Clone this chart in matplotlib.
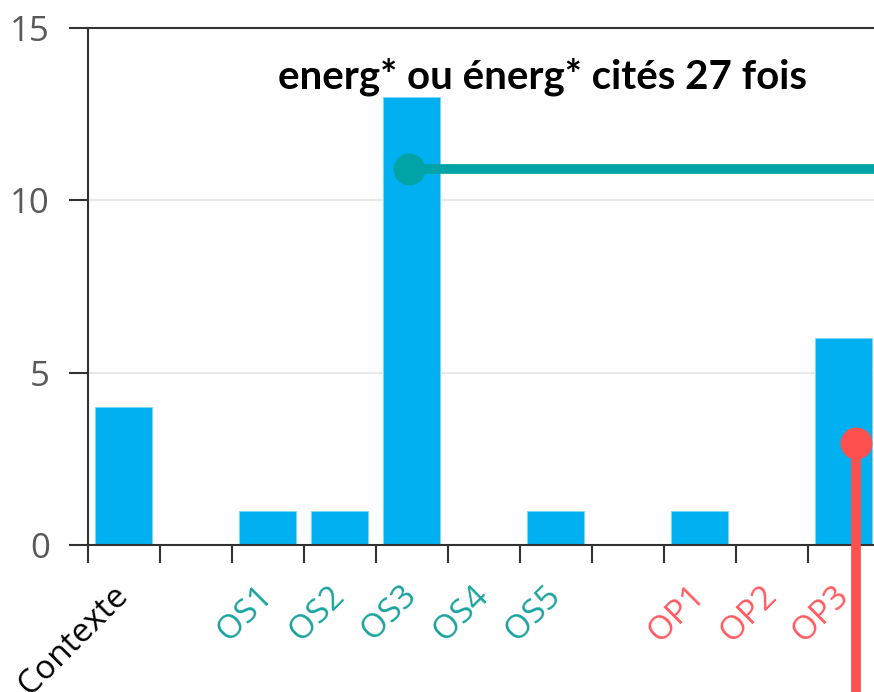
import matplotlib
matplotlib.use("Agg")
import matplotlib.pyplot as plt
import numpy as np

# values
categories = ["Contexte", "", "OS1", "OS2", "OS3", "OS4", "OS5", "", "OP1", "OP2", "OP3"]
counts = [4, 0, 1, 1, 13, 0, 1, 0, 1, 0, 6]
groups = ["ctx", "", "os", "os", "os", "os", "os", "", "op", "op", "op"]
title_text = "energ* ou énerg* cités 27 fois"

# marker lines drawn over the chart (data coords)
os_marker = (3.97, 10.9)
op_marker = (10.18, 2.96)

BAR = "#00B0F0"
TEAL = "#00A3A6"
RED = "#FF5050"
group_colors = {"ctx": "#000000", "os": "#1AA39E", "op": "#FF5A5F", "": "#000000"}

plt.rcParams["font.family"] = ["Open Sans", "DejaVu Sans"]

fig = plt.figure(figsize=(8.74, 6.92), dpi=100)
ax = fig.add_axes([87.5 / 874, 147 / 692, 792 / 874, 517 / 692])

x = np.arange(len(categories))
ax.bar(x, counts, width=0.78, color=BAR, edgecolor="#7fd6f7", linewidth=0.6, zorder=2)

ax.set_xlim(-0.5, len(categories) - 0.5)
ax.set_ylim(0, 15)
ax.set_yticks([0, 5, 10, 15])
ax.yaxis.grid(True, color="#e6e6e6", linewidth=1.2, zorder=0)
ax.set_axisbelow(True)

# labels at category centres, tick marks at category boundaries
ax.set_xticks(x)
ax.set_xticklabels(categories, rotation=45, ha="right", va="center",
                   rotation_mode="anchor", fontsize=24)
ax.tick_params(axis="x", which="major", length=0, pad=33)
ax.set_xticks(np.arange(-0.5, len(categories), 1.0), minor=True)
ax.tick_params(axis="x", which="minor", length=13, width=1.5, color="#333333")
for lbl, g in zip(ax.get_xticklabels(), groups):
    lbl.set_color(group_colors[g])

ax.tick_params(axis="y", length=14, width=1.5, color="#333333",
               labelsize=25, labelcolor="#595959", pad=13)

for side in ("left", "bottom", "top"):
    ax.spines[side].set_color("#333333")
    ax.spines[side].set_linewidth(1.5)
ax.spines["right"].set_visible(False)

ax.text(0.575, 0.905, title_text, transform=ax.transAxes, ha="center", va="center",
        fontsize=29, fontweight="bold", family=["Lato", "DejaVu Sans"], color="black")

# highlighted annotations
ax.plot([os_marker[0], 11], [os_marker[1], os_marker[1]], color=TEAL, lw=7,
        solid_capstyle="butt", clip_on=False, zorder=4)
ax.plot([os_marker[0]], [os_marker[1]], "o", ms=22, color=TEAL, clip_on=False, zorder=5)
ax.plot([op_marker[0], op_marker[0]], [op_marker[1], -6], color=RED, lw=7,
        solid_capstyle="butt", clip_on=False, zorder=4)
ax.plot([op_marker[0]], [op_marker[1]], "o", ms=22, color=RED, clip_on=False, zorder=5)

fig.savefig("out.png", dpi=100)
